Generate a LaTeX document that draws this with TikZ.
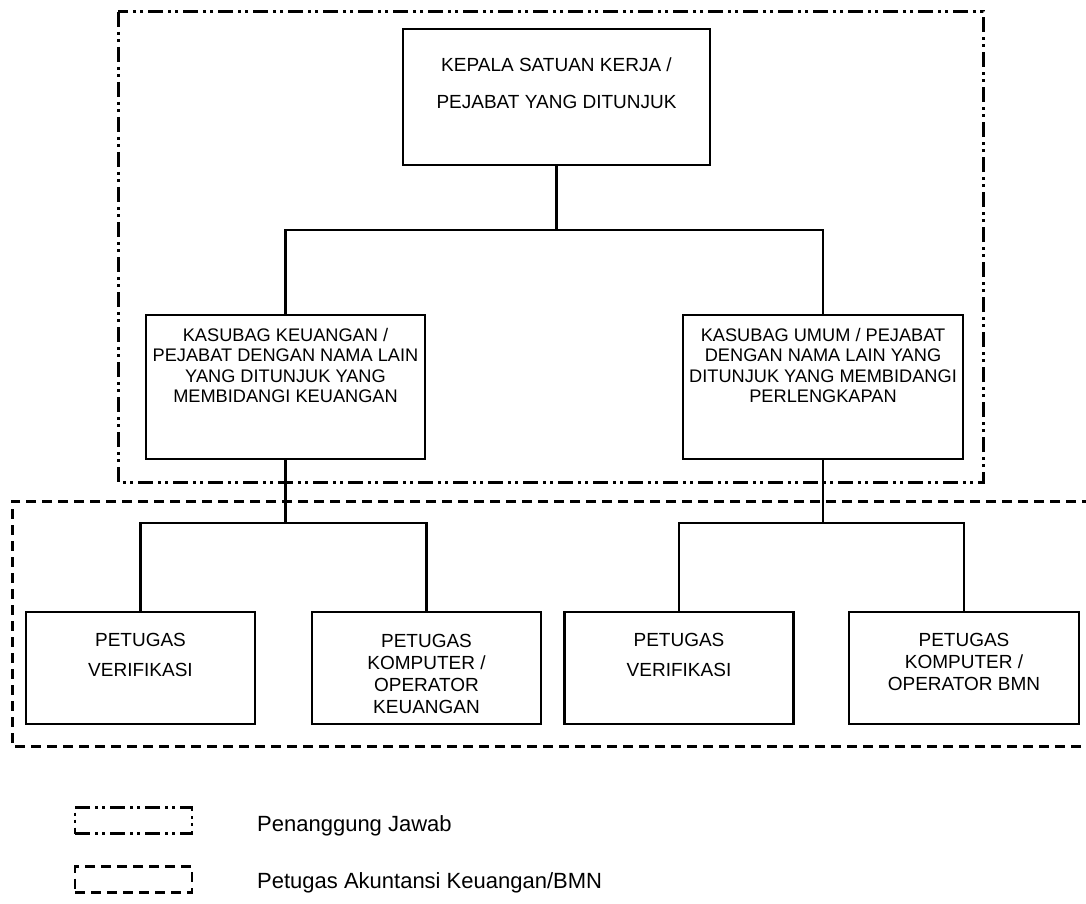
\documentclass[tikz,border=0pt]{standalone}
\usepackage{fontspec}
\setmainfont{Liberation Sans}
\begin{document}
\begin{tikzpicture}[x=1pt,y=-1pt,
  orgbox/.style={draw, line width=2.8pt, rectangle, inner sep=0pt},
  link/.style={line width=2.8pt},
  chargeline/.style={line width=3pt, dash pattern=on 15pt off 5pt on 3pt off 4pt on 3pt off 5pt},
  staffline/.style={line width=3pt, dash pattern=on 10pt off 6pt},
  headtext/.style={align=center, inner sep=0pt, font=\fontsize{19}{37}\selectfont},
  midtext/.style={align=center, inner sep=0pt, font=\fontsize{18.2}{20.3}\selectfont},
  lowtext/.style={align=center, inner sep=0pt, font=\fontsize{19}{22}\selectfont},
  widetext/.style={align=center, inner sep=0pt, font=\fontsize{19}{30}\selectfont},
  legendtext/.style={anchor=base west, inner sep=0pt, font=\fontsize{22}{26}\selectfont}
]
\useasboundingbox (0,0) rectangle (1086,904);
\clip (0,0) rectangle (1086,904);

% group frames
\draw[chargeline] (118,12) rectangle (983,482);
\draw[staffline] (1092,501) -- (12,501) -- (12,746) -- (1092,746);

% head of unit
\node[orgbox, minimum width=307pt, minimum height=136pt] (head) at (556.5,97) {};
\node[headtext] (headlbl) at (556.5,83.5) {KEPALA SATUAN KERJA /\\PEJABAT YANG DITUNJUK};

% second level
\node[orgbox, minimum width=279pt, minimum height=144pt] (kl) at (285.5,387) {};
\node[midtext] (kllbl) at (285.5,365.5) {KASUBAG KEUANGAN /\\PEJABAT DENGAN NAMA LAIN\\YANG DITUNJUK YANG\\MEMBIDANGI KEUANGAN};
\node[orgbox, minimum width=280pt, minimum height=144pt] (kr) at (823,387) {};
\node[midtext] (krlbl) at (823,365.5) {KASUBAG UMUM / PEJABAT\\DENGAN NAMA LAIN YANG\\DITUNJUK YANG MEMBIDANGI\\PERLENGKAPAN};

% staff level
\node[orgbox, minimum width=229pt, minimum height=112pt] (p1) at (140.5,668) {};
\node[widetext] (p1lbl) at (140.5,655) {PETUGAS\\VERIFIKASI};
\node[orgbox, minimum width=229pt, minimum height=112pt] (p2) at (426.5,668) {};
\node[lowtext] (p2lbl) at (426.5,673.5) {PETUGAS\\KOMPUTER /\\OPERATOR\\KEUANGAN};
\node[orgbox, minimum width=229pt, minimum height=112pt] (p3) at (679,668) {};
\node[widetext] (p3lbl) at (679,655) {PETUGAS\\VERIFIKASI};
\node[orgbox, minimum width=230pt, minimum height=112pt] (p4) at (964,668) {};
\node[lowtext] (p4lbl) at (964,661.5) {PETUGAS\\KOMPUTER /\\OPERATOR BMN};

% junctions
\coordinate (hj) at (556.5,230);
\coordinate (lj) at (285.5,523);
\coordinate (rj) at (823,523);

% connectors
\draw[link] (head.south) -- (hj);
\draw[link] (kl.north) |- (hj) -| (kr.north);
\draw[link] (kl.south) -- (lj);
\draw[link] (p1.north) |- (lj) -| (p2.north);
\draw[link] (kr.south) -- (rj);
\draw[link] (p3.north) |- (rj) -| (p4.north);

% legend
\node[draw, chargeline, line width=2.6pt, minimum width=117pt, minimum height=26pt, inner sep=0pt] (lg1) at (133.5,820.5) {};
\node[draw, staffline, line width=2.6pt, minimum width=117pt, minimum height=26pt, inner sep=0pt] (lg2) at (133.5,879.5) {};
\node[legendtext] (lg1lbl) at (257,831) {Penanggung Jawab};
\node[legendtext] (lg2lbl) at (257,888) {Petugas Akuntansi Keuangan/BMN};
\end{tikzpicture}
\end{document}
